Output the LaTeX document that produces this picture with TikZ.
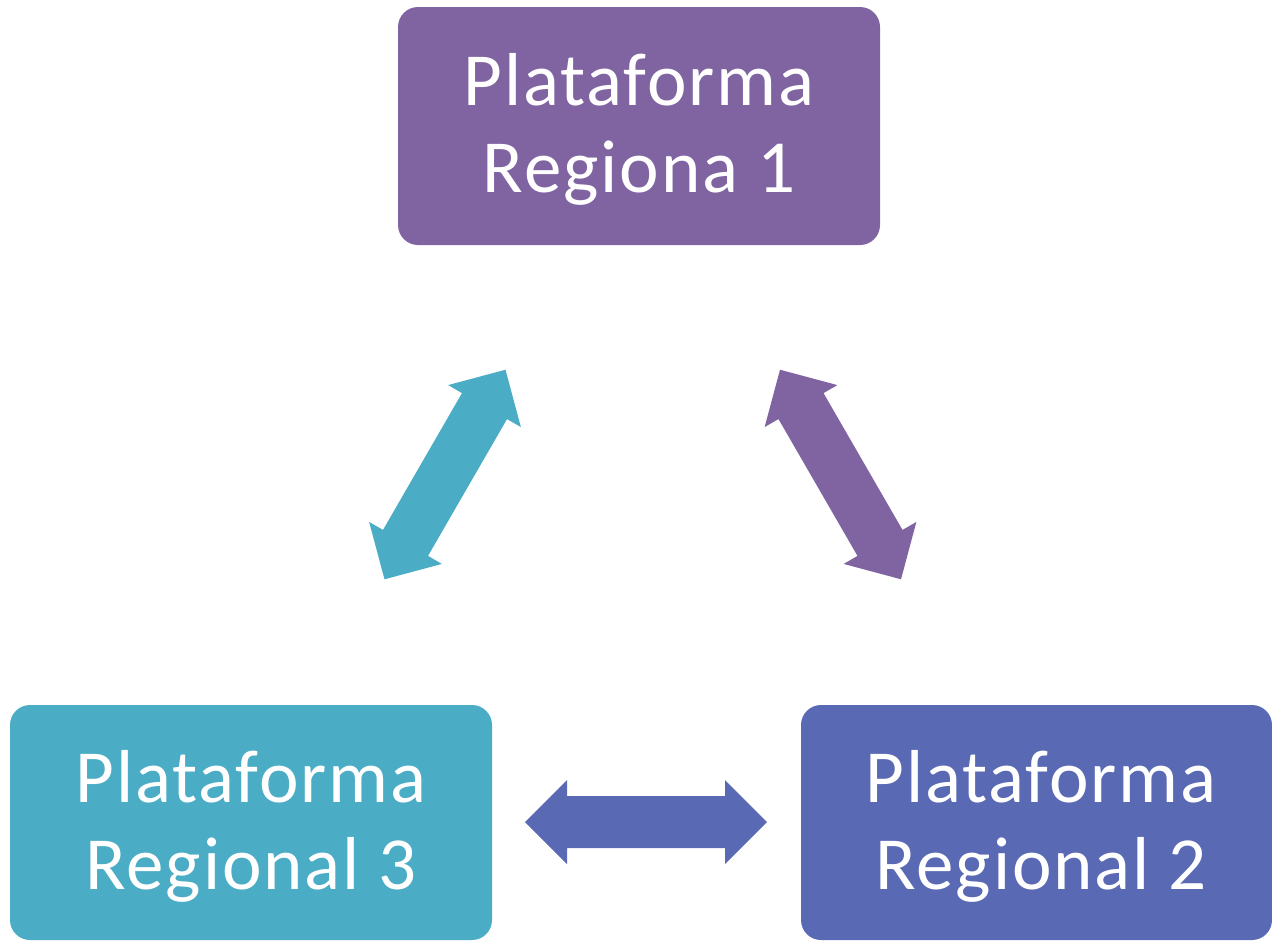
\documentclass[tikz,border=0pt]{standalone}
\usepackage{fontspec}
\setmainfont{Carlito}[LetterSpace=2.5]
\definecolor{cpurple}{HTML}{8064A2}
\definecolor{ccyan}{HTML}{4BACC6}
\definecolor{cblue}{HTML}{5A69B4}
\begin{document}
\begin{tikzpicture}[x=1pt,y=-1pt,
  box/.style={rounded corners=20pt, inner sep=0pt, text=white, align=center,
    font=\fontsize{75}{87}\selectfont}]
\useasboundingbox (0,0) rectangle (1272,940);
\clip (0,0) rectangle (1272,940);
\node[box, fill=cpurple, minimum width=482pt, minimum height=238pt] (r1) at (639,126) {};
\node[box] (t1) at (639,129) {Plataforma\\Regiona 1};
\node[box, fill=ccyan, minimum width=482pt, minimum height=235pt] (r3) at (251,822.5) {};
\node[box] (t3) at (251,826) {Plataforma\\Regional 3};
\node[box, fill=cblue, minimum width=471pt, minimum height=235pt] (r2) at (1036.5,822.5) {};
\node[box] (t2) at (1041,826) {Plataforma\\Regional 2};
\def\dblarrowpath{(-121,0) -- (-79,42) -- (-79,26) -- (79,26) -- (79,42) -- (121,0) -- (79,-42) -- (79,-26) -- (-79,-26) -- (-79,-42) -- cycle}
\fill[ccyan, shift={(445,474.5)}, rotate=60] \dblarrowpath;
\fill[cpurple, shift={(840.5,474.5)}, rotate=-60] \dblarrowpath;
\fill[cblue, shift={(646,822)}] \dblarrowpath;
\end{tikzpicture}
\end{document}
